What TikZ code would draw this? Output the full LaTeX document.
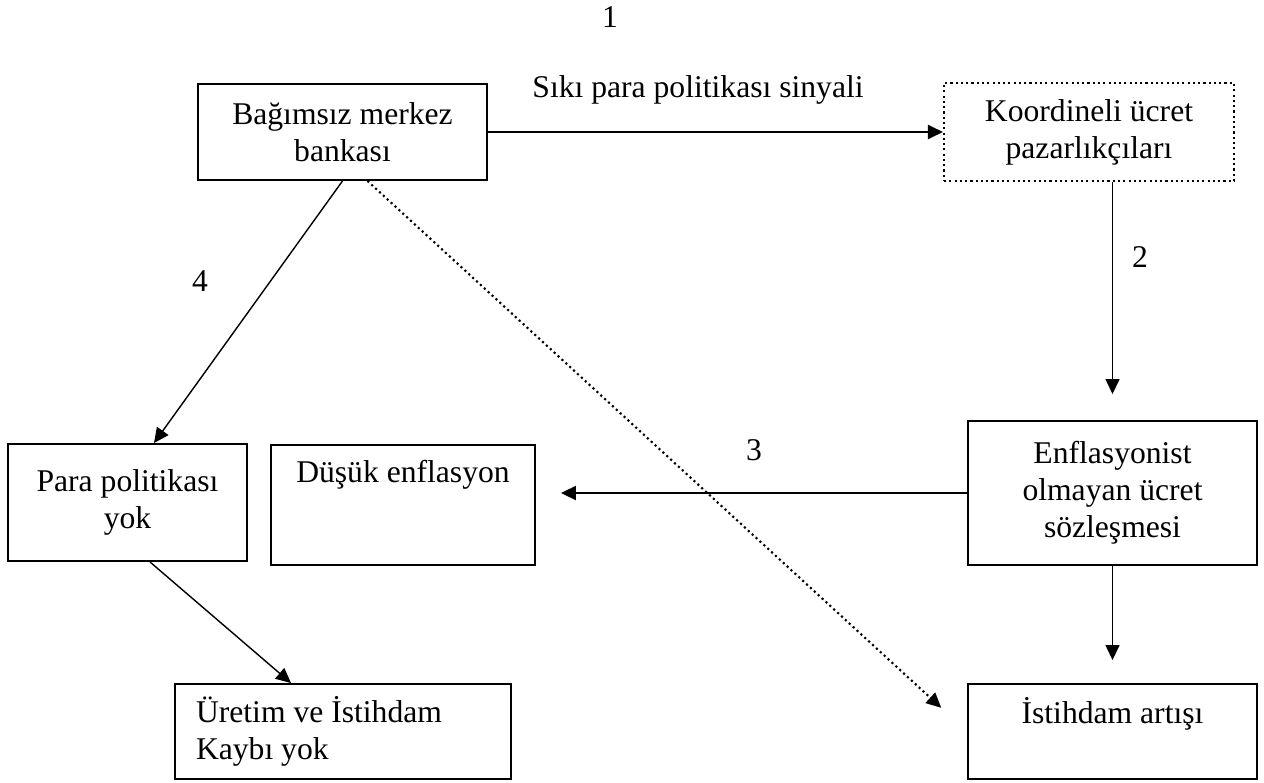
\documentclass[tikz,border=0pt]{standalone}
\usepackage{fontspec}
\setmainfont{Liberation Serif}
\usetikzlibrary{positioning, arrows.meta}

\begin{document}
\begin{tikzpicture}[x=0.02cm, y=-0.02cm,
        every node/.style={font=\fontsize{18}{21}\selectfont},
        box/.style={draw, line width=1.1pt, inner sep=0pt, align=center},
        topbox/.style={draw, line width=1.1pt, inner sep=0pt},
        arr/.style={-{Triangle[length=0.3cm, width=0.28cm]}, line width=0.8pt},
        dotline/.style={line width=1.2pt, dash pattern=on 1.2pt off 1.8pt},
        num/.style={inner sep=0pt}]
    \useasboundingbox (0,0) rectangle (1264,782);

    % boxes
    \node[box, minimum width=5.78cm, minimum height=1.92cm] (bank) at (342.5,132) {Bağımsız merkez\\bankası};
    \node[box, dotline, minimum width=5.8cm, minimum height=1.96cm] (coord) at (1089,132) {Koordineli ücret\\pazarlıkçıları};
    \node[box, minimum width=5.78cm, minimum height=2.88cm] (wage) at (1112.5,493) {Enflasyonist\\olmayan ücret\\sözleşmesi};
    \node[topbox, minimum width=5.28cm, text height=0.74cm, text depth=1.66cm] (low) at (403,505) {Düşük enflasyon};
    \node[box, minimum width=4.78cm, minimum height=2.34cm] (nopol) at (127.5,502.5) {Para politikası\\yok};
    \node[box, align=flush left, text width=5.88cm, minimum width=6.72cm, minimum height=1.9cm] (noloss) at (343,731.5) {Üretim ve İstihdam\\Kaybı yok};
    \node[topbox, minimum width=5.78cm, text height=0.78cm, text depth=1.12cm] (empl) at (1112.5,731.5) {İstihdam artışı};

    % labels
    \node[num] (n1) at (610,17) {1};
    \node[num] (n2) at (1140,257) {2};
    \node[num] (n3) at (754,450) {3};
    \node[num] (n4) at (200,281) {4};
    \node (signal) at (698,90) {Sıkı para politikası sinyali};

    % arrows
    \draw[arr, line width=1.1pt] (bank.east) -- (coord.west);
    \draw[arr, shorten >=0.52cm] (coord.south -| wage.north) -- (wage.north);
    \draw[arr, line width=1.1pt, shorten >=0.5cm] (wage.west) -- (wage.west -| low.east);
    \draw[arr] (bank.south) -- ([xshift=0.53cm]nopol.north);
    \draw[arr, dotline, shorten >=0.7cm] ([xshift=0.5cm]bank.south) -- (empl.west);
    \draw[arr] ([xshift=0.45cm]nopol.south) -- ([xshift=-1.04cm]noloss.north);
    \draw[arr, shorten >=0.46cm] (wage.south) -- (empl.north);
\end{tikzpicture}
\end{document}
